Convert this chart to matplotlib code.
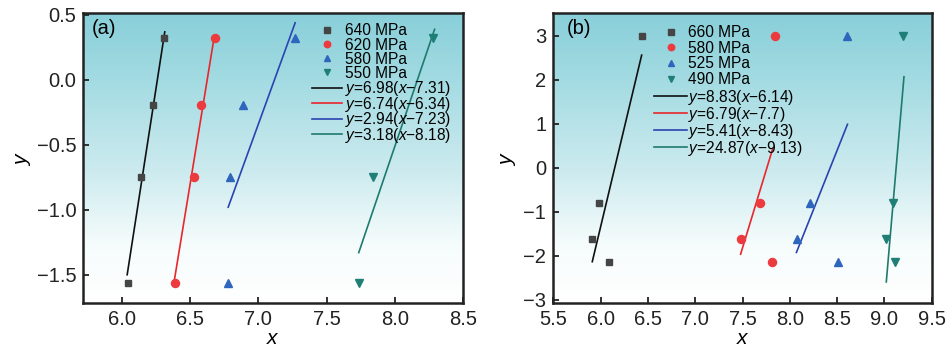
import numpy as np
import matplotlib
matplotlib.use("Agg")
import matplotlib.pyplot as plt
from matplotlib.colors import LinearSegmentedColormap

plt.rcParams['font.family'] = ['Liberation Sans', 'DejaVu Sans']
plt.rcParams['mathtext.fontset'] = 'custom'
plt.rcParams['mathtext.it'] = 'Liberation Sans:italic'
plt.rcParams['mathtext.rm'] = 'Liberation Sans'

# ---------------- Panel (a) data ----------------
a_labels = ['640 MPa', '620 MPa', '580 MPa', '550 MPa']
a_x_640 = [6.044, 6.14, 6.228, 6.313]
a_y_640 = [-1.56, -0.75, -0.19, 0.32]
a_x_620 = [6.39, 6.53, 6.58, 6.68]
a_y_620 = [-1.56, -0.75, -0.19, 0.32]
a_x_580 = [6.78, 6.79, 6.89, 7.27]
a_y_580 = [-1.56, -0.75, -0.19, 0.32]
a_x_550 = [7.735, 7.84, 8.28]
a_y_550 = [-1.56, -0.75, 0.32]
a_fit_labels = ['6.98', '7.31', '6.74', '6.34', '2.94', '7.23', '3.18', '8.18']
a_fit_x = [[6.041, 6.316], [6.385, 6.676], [6.78, 7.27], [7.735, 8.29]]
a_fit_y = [[-1.50, 0.37], [-1.55, 0.32], [-0.98, 0.44], [-1.33, 0.39]]

# ---------------- Panel (b) data ----------------
b_labels = ['660 MPa', '580 MPa', '525 MPa', '490 MPa']
b_y = [-1.62, -0.79, -2.14, 3.0]
b_x_660 = [5.912, 5.979, 6.092, 6.434]
b_x_580 = [7.484, 7.685, 7.815, 7.84]
b_x_525 = [8.08, 8.217, 8.506, 8.608]
b_x_490 = [9.02, 9.09, 9.11, 9.20]
b_fit_labels = ['8.83', '6.14', '6.79', '7.7', '5.41', '8.43', '24.87', '9.13']
b_fit_x = [[5.912, 6.434], [7.48, 7.82], [8.07, 8.61], [9.02, 9.207]]
b_fit_y = [[-2.13, 2.56], [-1.96, 0.44], [-1.92, 0.99], [-2.59, 2.07]]

mk_colors = ['#454545', '#ec3b3f', '#2f66bd', '#1f7f76']
ln_colors = ['#111111', '#e8262b', '#2a44b0', '#1f7a6e']
markers = ['s', 'o', '^', 'v']
msizes = [4.8, 5.8, 5.8, 5.8]

fig = plt.figure(figsize=(9.46, 3.49), dpi=100)
axa = fig.add_axes([83.3 / 946, 1 - 303.3 / 349, 380 / 946, 290 / 349])
axb = fig.add_axes([553.3 / 946, 1 - 303.3 / 349, 378.4 / 946, 290 / 349])

cmap = LinearSegmentedColormap.from_list(
    'bg', [(0.0, '#ffffff'), (0.2, '#f6fcfc'), (0.45, '#cdebef'), (0.75, '#a6dce3'), (1.0, '#88cfd9')])
grad = np.linspace(0, 1, 256).reshape(-1, 1)

def decorate(ax):
    ax.imshow(grad, extent=[0, 1, 0, 1], transform=ax.transAxes, origin='lower',
              cmap=cmap, aspect='auto', zorder=-5, interpolation='bilinear')
    for s in ax.spines.values():
        s.set_linewidth(1.8)
        s.set_color('#222222')
    ax.tick_params(direction='in', length=4, width=1.3, labelsize=14.5, colors='#222222',
                   top=False, right=False, pad=5)
    ax.set_xlabel('$x$', fontsize=15)
    ax.xaxis.set_label_coords(0.5, -0.088)
    ax.set_ylabel('$y$', fontsize=15)

def two_legends(ax, mk_handles, ln_handles, x0, top_mk, top_ln, hl, pad, sp_mk, sp_ln):
    kw = dict(loc='upper left', frameon=False, fontsize=11.2, handlelength=hl,
              handletextpad=pad, borderpad=0, borderaxespad=0, numpoints=1, markerscale=0.8)
    leg1 = ax.legend(handles=mk_handles, bbox_to_anchor=(x0, top_mk), labelspacing=sp_mk, **kw)
    ax.add_artist(leg1)
    ax.legend(handles=ln_handles, bbox_to_anchor=(x0, top_ln), labelspacing=sp_ln, **kw)

# Panel (a)
xs_a = [a_x_640, a_x_620, a_x_580, a_x_550]
ys_a = [a_y_640, a_y_620, a_y_580, a_y_550]
mk_h, ln_h = [], []
for i in range(4):
    h, = axa.plot(xs_a[i], ys_a[i], linestyle='none', marker=markers[i], ms=msizes[i],
                  color=mk_colors[i], label=a_labels[i], zorder=3)
    mk_h.append(h)
for i in range(4):
    lab = '$y$=%s($x$\u2212%s)' % (a_fit_labels[2 * i], a_fit_labels[2 * i + 1])
    h, = axa.plot(a_fit_x[i], a_fit_y[i], color=ln_colors[i], lw=1.2, label=lab, zorder=2)
    ln_h.append(h)
axa.set_xlim(5.72, 8.5)
axa.set_ylim(-1.72, 0.513)
axa.set_xticks([6.0, 6.5, 7.0, 7.5, 8.0, 8.5])
axa.set_xticklabels(['6.0', '6.5', '7.0', '7.5', '8.0', '8.5'])
axa.set_yticks([-1.5, -1.0, -0.5, 0.0, 0.5])
axa.set_yticklabels(['\u22121.5', '\u22121.0', '\u22120.5', '0.0', '0.5'])
decorate(axa)
axa.yaxis.set_label_coords(-0.133, 0.5)
axa.text(8.5 / 380, 1 - 6 / 290, '(a)', transform=axa.transAxes, fontsize=14.5, va='top', ha='left')
two_legends(axa, mk_h, ln_h, 0.601, 0.965, 0.772, 1.94, 0.21, -0.06, -0.23)

# Panel (b)
xs_b = [b_x_660, b_x_580, b_x_525, b_x_490]
mk_h, ln_h = [], []
for i in range(4):
    h, = axb.plot(xs_b[i], b_y, linestyle='none', marker=markers[i], ms=msizes[i],
                  color=mk_colors[i], label=b_labels[i], zorder=3)
    mk_h.append(h)
for i in range(4):
    lab = '$y$=%s($x$\u2212%s)' % (b_fit_labels[2 * i], b_fit_labels[2 * i + 1])
    h, = axb.plot(b_fit_x[i], b_fit_y[i], color=ln_colors[i], lw=1.2, label=lab, zorder=2)
    ln_h.append(h)
axb.set_xlim(5.5, 9.5)
axb.set_ylim(-3.075, 3.51)
axb.set_xticks([5.5, 6.0, 6.5, 7.0, 7.5, 8.0, 8.5, 9.0, 9.5])
axb.set_xticklabels(['5.5', '6.0', '6.5', '7.0', '7.5', '8.0', '8.5', '9.0', '9.5'])
axb.set_yticks([-3, -2, -1, 0, 1, 2, 3])
axb.set_yticklabels(['\u22123', '\u22122', '\u22121', '0', '1', '2', '3'])
decorate(axb)
axb.yaxis.set_label_coords(-0.092, 0.5)
axb.text(13 / 378.4, 1 - 6 / 290, '(b)', transform=axb.transAxes, fontsize=14.5, va='top', ha='left')
two_legends(axb, mk_h, ln_h, 0.266, 0.959, 0.743, 2.13, 0.08, 0.04, -0.135)

fig.savefig('out.png', dpi=100)
